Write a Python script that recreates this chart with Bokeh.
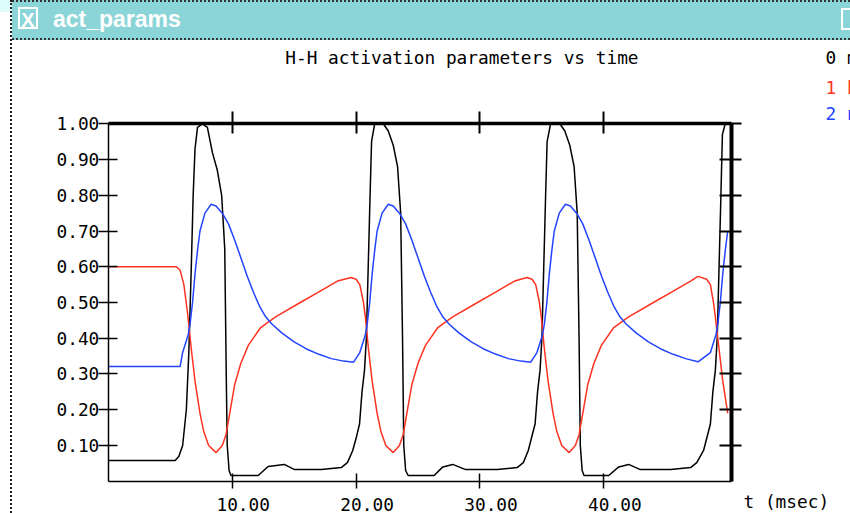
from bokeh.plotting import figure
from bokeh.models import Range1d, LinearAxis, FixedTicker, PrintfTickFormatter, Label, Div
from bokeh.layouts import row, column
from bokeh.embed import file_html
from bokeh.resources import INLINE

# ---------------- data ----------------
t_m = [0.0, 5.4, 5.7, 6.0, 6.3, 6.5, 6.7, 6.85, 7.0, 7.2, 7.6, 8.0, 8.4, 8.8, 9.15, 9.4, 9.52, 9.6, 9.75, 9.9,
       12.1, 12.9, 14.2, 15.0, 17.2, 18.8, 19.3, 19.73, 20.0, 20.28, 20.48, 20.68, 20.83, 20.98, 21.13, 21.25, 21.5,
       22.2, 22.6, 23.0, 23.35, 23.6, 23.75, 23.85, 24.0, 24.2,
       26.3, 27.0, 27.8, 28.8, 31.4, 33.0, 33.5, 33.9, 34.15, 34.45, 34.65, 34.85, 35.0, 35.15, 35.3, 35.42, 35.7,
       36.45, 36.85, 37.25, 37.6, 37.85, 38.0, 38.1, 38.25, 38.4,
       40.4, 41.2, 42.0, 42.9, 45.4, 47.0, 47.5, 48.05, 48.6, 48.8, 49.0, 49.15, 49.3, 49.45, 49.57, 49.8, 50.28]
m = [0.058, 0.058, 0.07, 0.10, 0.20, 0.36, 0.60, 0.80, 0.93, 0.99, 1.00, 0.99, 0.92, 0.87, 0.80, 0.65, 0.30, 0.10, 0.03, 0.016,
     0.016, 0.041, 0.047, 0.033, 0.033, 0.038, 0.052, 0.086, 0.12, 0.16, 0.25, 0.31, 0.40, 0.60, 0.80, 0.95, 1.00,
     1.00, 0.98, 0.94, 0.88, 0.75, 0.40, 0.10, 0.03, 0.016,
     0.016, 0.040, 0.047, 0.033, 0.033, 0.038, 0.052, 0.086, 0.12, 0.16, 0.25, 0.31, 0.40, 0.60, 0.80, 0.95, 1.00,
     1.00, 0.98, 0.94, 0.88, 0.75, 0.40, 0.10, 0.03, 0.016,
     0.016, 0.040, 0.047, 0.033, 0.033, 0.038, 0.052, 0.086, 0.16, 0.25, 0.31, 0.40, 0.60, 0.80, 0.97, 1.00, 1.00]

t_h = [0.0, 5.5, 5.8, 6.1, 6.4, 6.7, 7.0, 7.4, 7.7, 8.1, 8.7, 9.2, 9.5, 9.8, 10.2, 10.7, 11.3, 12.3, 13.5, 15.5, 17.0,
       18.5, 19.6, 20.0, 20.3, 20.6, 20.75, 21.0, 21.3, 21.7, 22.0, 22.4, 23.0, 23.5, 23.8, 24.1, 24.5, 25.0, 25.6,
       26.6, 27.8, 29.8, 31.3, 32.8, 33.8, 34.2, 34.5, 34.8, 34.95, 35.2, 35.5, 35.9, 36.2, 36.6, 37.2, 37.7, 38.0,
       38.3, 38.7, 39.2, 39.8, 40.8, 42.0, 44.0, 45.5, 47.0, 47.6, 48.3, 48.6, 48.85, 49.0, 49.3, 49.6, 50.0]
h = [0.60, 0.60, 0.59, 0.55, 0.47, 0.37, 0.28, 0.19, 0.14, 0.10, 0.08, 0.10, 0.13, 0.19, 0.27, 0.33, 0.38, 0.43, 0.46,
     0.50, 0.53, 0.56, 0.57, 0.565, 0.55, 0.50, 0.46, 0.37, 0.28, 0.19, 0.14, 0.10, 0.08, 0.10, 0.13, 0.19, 0.27,
     0.33, 0.38, 0.43, 0.46, 0.50, 0.53, 0.56, 0.57, 0.565, 0.55, 0.50, 0.46, 0.37, 0.28, 0.19, 0.14, 0.10, 0.08,
     0.10, 0.13, 0.19, 0.27, 0.33, 0.38, 0.43, 0.46, 0.50, 0.53, 0.56, 0.573, 0.565, 0.55, 0.50, 0.46, 0.37, 0.28, 0.19]

t_n = [0.0, 5.8, 6.0, 6.45, 6.6, 6.8, 7.0, 7.2, 7.4, 7.8, 8.3, 8.7, 9.2, 9.7, 10.2, 10.7, 11.2, 11.7, 12.2, 12.7,
       13.2, 14.0, 15.0, 16.0, 17.0, 18.0, 19.0, 19.8, 20.3, 20.75, 20.9, 21.1, 21.3, 21.5, 21.7, 22.1, 22.6, 23.0,
       23.5, 24.0, 24.5, 25.0, 25.5, 26.0, 26.5, 27.0, 27.5, 28.3, 29.3, 30.3, 31.3, 32.3, 33.3, 34.1, 34.6, 35.05,
       35.2, 35.4, 35.6, 35.8, 36.0, 36.4, 36.9, 37.3, 37.8, 38.3, 38.8, 39.3, 39.8, 40.3, 40.8, 41.3, 41.8, 42.6,
       43.6, 44.6, 45.6, 46.6, 47.6, 48.6, 49.05, 49.2, 49.4, 49.6, 49.8, 50.0]
n = [0.321, 0.321, 0.36, 0.41, 0.44, 0.50, 0.58, 0.645, 0.70, 0.75, 0.775, 0.77, 0.75, 0.72, 0.675, 0.625, 0.575,
     0.53, 0.49, 0.46, 0.44, 0.415, 0.39, 0.37, 0.355, 0.343, 0.336, 0.333, 0.36, 0.41, 0.44, 0.50, 0.58, 0.645,
     0.70, 0.75, 0.775, 0.77, 0.75, 0.72, 0.675, 0.625, 0.575, 0.53, 0.49, 0.46, 0.44, 0.415, 0.39, 0.37, 0.355,
     0.343, 0.336, 0.333, 0.36, 0.41, 0.44, 0.50, 0.58, 0.645, 0.70, 0.75, 0.775, 0.77, 0.75, 0.72, 0.675, 0.625,
     0.575, 0.53, 0.49, 0.46, 0.44, 0.415, 0.39, 0.37, 0.355, 0.343, 0.334, 0.36, 0.41, 0.44, 0.50, 0.58,
     0.645, 0.70]

series_names = ["0 m", "1 h", "2 n"]
series_colors = ["#000000", "#ff3322", "#2244ff"]
y_ticks = [0.1, 0.2, 0.3, 0.4, 0.5, 0.6, 0.7, 0.8, 0.9, 1.0]
x_ticks = [10, 20, 30, 40]
title_text = "H-H activation parameters vs time"
x_label = "t (msec)"
window_name = "act_params"

# ---------------- layout constants (pixels) ----------------
FONT = "DejaVu Sans Mono"
FS = "17.8px"
X_MAX = 50.28
FW, FH = 838, 473              # figure size (below the window title bar, right of the left strip)
T0_PX, T1_PX = 95.8, 718.7     # figure x pixel of t = 0 and t = X_MAX
V1_PX, V0_PX = 83.3, 440.7     # figure y pixel of value 1 and value 0
SX = (T1_PX - T0_PX) / X_MAX
SY = V0_PX - V1_PX
x_rng = Range1d(-T0_PX / SX, (FW - T0_PX) / SX)
y_rng = Range1d(-(FH - V0_PX) / SY, 1 + V1_PX / SY)
LAB_SHIFT = 0.89               # x tick labels sit right of their ticks in the original

p = figure(width=FW, height=FH, output_backend="svg", toolbar_location=None, title=None,
           x_range=x_rng, y_range=y_rng, x_axis_location=None, y_axis_location=None,
           min_border=0, min_border_left=0, min_border_right=0, min_border_top=0, min_border_bottom=0,
           outline_line_color=None, background_fill_color="white", border_fill_color="white", margin=0)
p.grid.visible = False

for tt, vv, c in zip([t_m, t_h, t_n], [m, h, n], series_colors):
    p.line(tt, vv, line_color=c, line_width=1.5)

left = LinearAxis(ticker=FixedTicker(ticks=y_ticks), formatter=PrintfTickFormatter(format="%.2f"),
                  fixed_location=0, bounds=(0, 1), major_tick_in=9, major_tick_out=10, minor_tick_line_color=None,
                  axis_line_width=1.5, major_tick_line_width=1.5, major_label_standoff=-1,
                  major_label_text_font=FONT, major_label_text_font_size=FS, major_label_text_color="black")
p.add_layout(left, "left")

right = LinearAxis(ticker=FixedTicker(ticks=y_ticks), fixed_location=X_MAX, bounds=(0, 1),
                   major_tick_in=12, major_tick_out=10, minor_tick_line_color=None,
                   axis_line_width=4, major_tick_line_width=2, major_label_text_color=None)
p.add_layout(right, "right")

top = LinearAxis(ticker=FixedTicker(ticks=x_ticks), fixed_location=1.0, bounds=(0, X_MAX),
                 major_tick_in=10, major_tick_out=12, minor_tick_line_color=None,
                 axis_line_width=3.5, major_tick_line_width=2, major_label_text_color=None)
p.add_layout(top, "above")

bottom = LinearAxis(ticker=FixedTicker(ticks=x_ticks), fixed_location=0, bounds=(0, X_MAX),
                    major_tick_in=8, major_tick_out=7, minor_tick_line_color=None,
                    axis_line_width=1.5, major_tick_line_width=1.5, major_label_text_color=None)
p.add_layout(bottom, "below")

p.extra_x_ranges = {"lab": Range1d(x_rng.start - LAB_SHIFT, x_rng.end - LAB_SHIFT)}
xlab = LinearAxis(x_range_name="lab", ticker=FixedTicker(ticks=x_ticks), formatter=PrintfTickFormatter(format="%.2f"),
                  fixed_location=0, axis_line_color=None, major_tick_line_color=None, minor_tick_line_color=None,
                  major_tick_in=0, major_tick_out=0, major_label_standoff=17,
                  major_label_text_font=FONT, major_label_text_font_size=FS, major_label_text_color="black")
p.add_layout(xlab, "below")

p.add_layout(Label(x=0, y=1.0, x_offset=177, y_offset=66, text=title_text, text_font=FONT,
                   text_font_size=FS, text_baseline="middle", text_align="left", text_color="black"))
p.add_layout(Label(x=X_MAX, y=0, x_offset=12.3, y_offset=-20, text=x_label, text_font=FONT,
                   text_font_size=FS, text_baseline="middle", text_color="black"))
for name, c, dy in zip(series_names, series_colors, [66, 36.5, 10.5]):
    p.add_layout(Label(x=X_MAX, y=1.0, x_offset=94.3, y_offset=dy, text=name, text_font=FONT,
                       text_font_size=FS, text_baseline="middle", text_color=c))

# ---------------- window chrome ----------------
bar_html = (
    '<div style="position:relative;width:838px;height:40px;background:#8bd4d7;'
    'box-sizing:border-box;border-top:2px dotted #333;border-bottom:2px dotted #333;">'
    '<div style="position:absolute;left:6px;top:5px;width:20px;height:22px;border:2px solid #fff;'
    'color:#fff;font:bold 20px \'Liberation Sans\';line-height:22px;text-align:center;">X</div>'
    '<div style="position:absolute;left:41px;top:3px;color:#fff;font:bold 23px \'Liberation Sans\';'
    'line-height:28px;">' + window_name + '</div>'
    '<div style="position:absolute;left:829px;top:6px;width:12px;height:22px;border:2px solid #fff;"></div>'
    '</div>'
)
bar = Div(text=bar_html, width=838, height=40, margin=0)
strip = Div(text='<div style="width:12px;height:513px;box-sizing:border-box;background:linear-gradient('
                 '#dffcfc 0 12px, #fff 12px);border-right:2px dotted #222;"></div>',
            width=12, height=513, margin=0)

layout = row(strip, column(bar, p, spacing=0), spacing=0)
open("out.html", "w").write(file_html(layout, INLINE))
